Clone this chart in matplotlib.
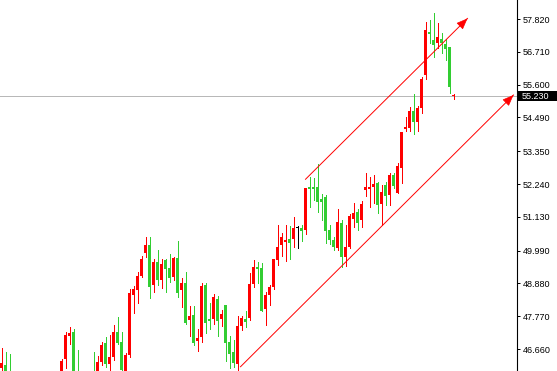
import numpy as np
import matplotlib
matplotlib.use('Agg')
import matplotlib.pyplot as plt
from matplotlib.patches import Rectangle
from matplotlib.transforms import blended_transform_factory

# candle data (bars below the window are still kept)
opens = [46.02, 46.12, 45.80, 45.70, 45.52, 45.38, 45.50, 45.42, 45.20, 45.30,
         45.55, 45.48, 45.35, 45.50, 45.62, 45.80, 46.33, 47.11, 47.24, 45.88,
         45.60, 45.70, 45.52, 45.85, 45.70, 46.23, 46.86, 46.16, 46.40, 47.25,
         46.90, 45.93, 46.46, 48.49, 48.66, 49.14, 49.92, 50.18, 48.82, 49.60,
         48.99, 49.67, 49.39, 49.11, 49.73, 48.66, 48.88, 47.64, 47.80, 46.94,
         47.08, 48.82, 47.66, 47.66, 48.34, 47.68, 48.15, 46.90, 46.56, 46.15,
         47.45, 47.67, 47.72, 48.85, 49.44, 49.40, 48.01, 48.49, 48.75, 49.67,
         50.18, 50.28, 50.38, 50.38, 50.74, 50.75, 50.68, 52.15, 52.15, 52.15,
         51.73, 51.79, 50.68, 50.35, 50.07, 50.93, 49.76, 50.10, 51.05, 51.30,
         51.02, 52.04, 52.07, 52.13, 52.28, 51.56, 52.21, 51.87, 52.54, 51.93,
         52.79, 54.11, 54.14, 54.71, 54.34, 54.80, 55.93, 57.38, 57.11, 57.00,
         57.13, 56.96, 56.86, 55.21]
highs = [46.69, 46.56, 46.49, 45.82, 45.70, 45.60, 45.75, 45.55, 45.40, 45.62,
         45.80, 45.66, 45.58, 45.76, 45.85, 46.33, 47.22, 47.40, 47.34, 46.63,
         45.80, 45.85, 45.78, 46.56, 46.43, 46.91, 47.07, 47.13, 47.47, 47.74,
         47.25, 46.54, 48.70, 48.79, 49.27, 49.81, 50.46, 50.46, 49.69, 50.01,
         49.69, 49.71, 49.87, 49.78, 50.31, 49.05, 49.26, 48.11, 48.11, 47.34,
         48.90, 48.88, 48.21, 48.52, 48.45, 47.98, 48.15, 47.10, 46.96, 47.79,
         47.79, 47.96, 49.24, 49.67, 49.61, 49.56, 48.60, 48.83, 49.70, 50.85,
         50.59, 50.84, 50.82, 51.12, 50.82, 50.84, 52.12, 52.49, 52.43, 52.92,
         51.90, 51.87, 50.85, 50.44, 51.38, 51.02, 50.85, 51.23, 51.60, 51.38,
         51.67, 52.62, 52.49, 52.54, 52.32, 52.21, 52.32, 52.60, 52.62, 52.94,
         54.01, 54.52, 54.83, 55.27, 54.88, 55.85, 57.73, 57.79, 58.01, 57.68,
         57.34, 57.13, 56.88, 55.27]
lows = [45.85, 45.75, 45.65, 45.45, 45.30, 45.20, 45.35, 45.10, 45.00, 45.22,
        45.40, 45.25, 45.20, 45.38, 45.45, 45.70, 46.03, 46.83, 45.80, 45.50,
        45.40, 45.45, 45.35, 45.55, 45.62, 46.12, 46.05, 45.95, 46.29, 46.83,
        45.90, 45.88, 46.40, 47.87, 48.23, 49.11, 49.78, 48.39, 48.60, 48.82,
        48.71, 48.59, 48.94, 48.99, 48.43, 48.09, 47.50, 47.10, 46.80, 46.60,
        46.91, 47.21, 47.35, 47.49, 47.10, 47.45, 46.26, 46.01, 46.06, 45.93,
        47.30, 47.41, 47.64, 48.77, 48.90, 47.95, 47.47, 48.15, 48.70, 49.50,
        49.81, 49.65, 49.69, 50.11, 50.07, 50.32, 50.54, 51.47, 51.70, 51.30,
        51.02, 50.23, 50.21, 50.01, 50.01, 49.44, 49.47, 50.07, 50.80, 50.68,
        50.80, 51.83, 51.45, 51.59, 51.25, 50.85, 51.53, 51.53, 52.09, 51.92,
        52.28, 54.04, 54.04, 53.93, 54.04, 54.65, 55.78, 57.00, 56.53, 56.83,
        56.68, 56.43, 55.33, 55.11]
closes = [46.19, 45.82, 45.70, 45.52, 45.38, 45.50, 45.42, 45.20, 45.30, 45.55,
          45.48, 45.35, 45.50, 45.62, 45.58, 46.25, 47.13, 47.21, 45.85, 45.60,
          45.70, 45.52, 45.65, 45.62, 46.23, 46.80, 46.14, 46.39, 47.24, 46.85,
          45.95, 46.46, 48.54, 48.70, 49.13, 49.70, 50.18, 48.77, 49.60, 48.99,
          49.53, 49.38, 49.07, 49.73, 48.54, 48.88, 47.55, 47.78, 46.87, 47.04,
          48.79, 47.53, 47.62, 48.41, 47.62, 47.84, 46.87, 46.49, 46.18, 47.45,
          47.72, 47.57, 48.86, 49.43, 49.38, 47.96, 48.49, 48.77, 49.70, 50.10,
          50.44, 50.35, 50.25, 50.74, 50.74, 50.66, 52.11, 52.06, 52.06, 51.64,
          51.64, 50.66, 50.35, 50.10, 50.96, 49.78, 50.10, 51.16, 51.27, 50.93,
          51.56, 52.13, 52.15, 52.24, 51.53, 51.97, 51.83, 52.54, 52.17, 52.85,
          54.01, 54.18, 54.71, 54.34, 54.80, 55.79, 57.45, 57.31, 56.94, 57.20,
          57.00, 56.80, 55.53, 55.23]

# price scale on the right
tick_values = [57.82, 56.71, 55.60, 54.49, 53.35, 52.24, 51.13, 49.99, 48.88, 47.77, 46.66]
tick_labels = ['57.820', '56.710', '55.600', '54.490', '53.350', '52.240',
               '51.130', '49.990', '48.880', '47.770', '46.660']
last_price = 55.23
last_label = '55.230'

# channel lines: (bar index, price) start and end points
upper_line = [(76.0, 52.40), (116.5, 57.84)]
lower_line = [(59.75, 46.06), (128.0, 55.25)]

UP_COLOR = '#ff0000'
DOWN_COLOR = '#32cd32'


def draw_candles(ax):
    """
    Draw the bars: red when the close is above the open, green below, black when equal.
    """
    o = np.array(opens)
    c = np.array(closes)
    x = np.arange(len(o))
    colors = []
    for oo, cc in zip(o, c):
        if cc > oo:
            colors.append(UP_COLOR)
        elif cc < oo:
            colors.append(DOWN_COLOR)
        else:
            colors.append('black')
    one_px = 0.034
    bottoms = np.minimum(o, c)
    heights = np.maximum(np.abs(c - o), one_px)
    ax.vlines(x, lows, highs, colors=colors, linewidth=0.72, zorder=2,
              antialiased=False)
    ax.bar(x, heights, bottom=bottoms, width=0.8, color=colors, linewidth=0,
           zorder=3, antialiased=False)


def draw_channel(ax, line):
    """
    Thin red trend line with a filled arrow head at the end.
    """
    (x0, y0), (x1, y1) = line
    ax.plot([x0, x1], [y0, y1], color='red', linewidth=0.7, zorder=4)
    slope = (y1 - y0) / (x1 - x0)
    ax.annotate('', xy=(x1, y1), xytext=(x1 - 1.5, y1 - 1.5 * slope),
                arrowprops=dict(arrowstyle='-|>,head_length=0.7,head_width=0.28',
                                color='red', lw=0.5, mutation_scale=10,
                                shrinkA=0, shrinkB=0),
                zorder=5)


def main():
    plt.rcParams['font.family'] = ['Liberation Sans', 'DejaVu Sans']
    fig = plt.figure(figsize=(5.57, 3.71), dpi=100)
    ax = fig.add_axes([0, 0, 517 / 557, 1])

    ax.axhline(last_price, color='#b8b8b8', linewidth=0.72, zorder=1,
               antialiased=False)
    draw_candles(ax)
    draw_channel(ax, upper_line)
    draw_channel(ax, lower_line)

    ax.set_xlim(-0.375, 128.875)
    ax.set_ylim(45.916, 58.463)

    ax.set_xticks([])
    ax.yaxis.tick_right()
    ax.set_yticks(tick_values)
    ax.set_yticklabels(tick_labels)
    ax.tick_params(axis='y', direction='out', length=2.2, width=0.72, pad=1.8,
                   labelsize=6.5, colors='black')
    for side in ['top', 'left', 'bottom']:
        ax.spines[side].set_visible(False)
    ax.spines['right'].set_linewidth(0.8)

    # current price box
    trans = blended_transform_factory(ax.transAxes, ax.transData)
    ax.add_patch(Rectangle((1.0, 55.05), 40 / 517, 0.35, transform=trans,
                           facecolor='black', edgecolor='none', clip_on=False, zorder=6))
    ax.text(1 + 5 / 517, last_price, last_label, transform=trans, ha='left',
            va='center_baseline', color='white', fontsize=6.5, clip_on=False, zorder=7)

    fig.savefig('out.png', dpi=100)
    plt.close(fig)


if __name__ == '__main__':
    main()
